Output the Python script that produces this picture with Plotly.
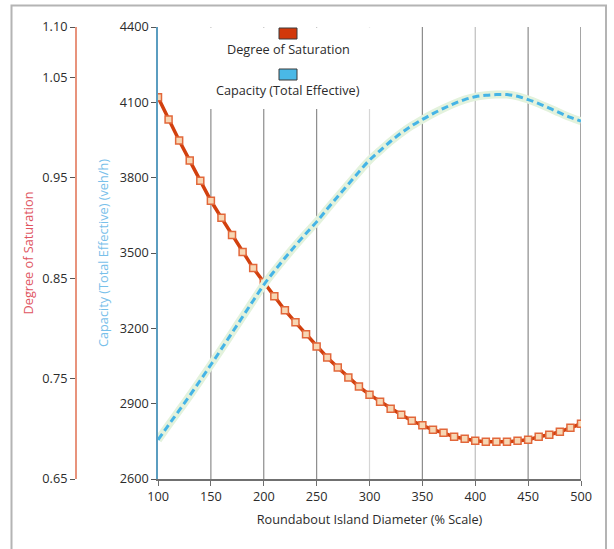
import plotly.graph_objects as go

# ---- data ----
diameter = list(range(100, 501, 10))

degree_of_saturation = [
    1.030, 1.008, 0.987, 0.967, 0.947, 0.927, 0.910, 0.893, 0.876, 0.860,
    0.846, 0.832, 0.818, 0.806, 0.794, 0.782, 0.771, 0.761, 0.751, 0.742,
    0.734, 0.727, 0.720, 0.714, 0.708, 0.7035, 0.699, 0.696, 0.692, 0.690,
    0.688, 0.687, 0.687, 0.687, 0.688, 0.689, 0.692, 0.694, 0.697, 0.701,
    0.705,
]

capacity = [
    2756, 2815, 2873, 2932, 2993, 3055, 3118, 3182, 3246, 3310,
    3373, 3428, 3480, 3530, 3578, 3624, 3675, 3725, 3774, 3823,
    3870, 3908, 3945, 3978, 4007, 4032, 4055, 4076, 4095, 4111,
    4122, 4128, 4131, 4131, 4124, 4111, 4095, 4077, 4058, 4040,
    4025,
]

x_ticks = [100, 150, 200, 250, 300, 350, 400, 450, 500]
dos_ticks = [0.65, 0.75, 0.85, 0.95, 1.05, 1.10]
cap_ticks = [2600, 2900, 3200, 3500, 3800, 4100, 4400]

legend_labels = ["Degree of Saturation", "Capacity (Total Effective)"]

# ---- layout geometry (pixels) ----
W, H = 614, 549
ML, MR, MT, MB = 76, 33, 27, 70
PW, PH = W - ML - MR, H - MT - MB


def px_x(p):
    return (p - ML) / PW


def px_y(p):
    return (H - MB - p) / PH


FONT = "Open Sans"
FS = 12.7
TXT = "#2b2b2b"

fig = go.Figure()

# capacity: pale halo + blue dashed line
fig.add_trace(go.Scatter(
    x=diameter, y=capacity, yaxis="y2", mode="lines",
    line=dict(color="#e3f2dc", width=8, shape="spline"),
    hoverinfo="skip", showlegend=False,
))
fig.add_trace(go.Scatter(
    x=diameter, y=capacity, yaxis="y2", mode="lines",
    line=dict(color="#45b4e6", width=3, dash="7px,4px", shape="spline"),
    name=legend_labels[1], showlegend=False,
))

# degree of saturation
fig.add_trace(go.Scatter(
    x=diameter, y=degree_of_saturation, yaxis="y", mode="lines+markers",
    line=dict(color="#d2400e", width=3.5),
    marker=dict(symbol="square", size=7, color="#f7d7b4",
                line=dict(color="#e2673a", width=1.5)),
    name=legend_labels[0], showlegend=False,
))

shapes = []
annotations = []

# vertical grid lines (rendered with slightly varying greys as in the reference)
grid_colors = ["#8c8c8c", "#8c8c8c", "#8c8c8c", "#8c8c8c", "#d6d6d6",
               "#8c8c8c", "#bdbdbd", "#8c8c8c", "#6a6a6a"]
for xv, gc in zip(x_ticks[1:], grid_colors[1:]):
    shapes.append(dict(type="line", xref="x", yref="paper", x0=xv, x1=xv,
                       y0=0, y1=1, line=dict(color=gc, width=1.2), layer="below"))

# white legend background covering the grid
shapes.append(dict(type="rect", xref="paper", yref="paper",
                   x0=px_x(201), x1=px_x(374), y0=px_y(109), y1=px_y(27.5),
                   fillcolor="white", line=dict(width=0), layer="between"))

# legend swatches and labels
swatch_colors = ["#d2380a", "#4ab8e6"]
sw_top = [28, 69]
txt_y = [48.5, 90.5]
for lab, col, st, ty in zip(legend_labels, swatch_colors, sw_top, txt_y):
    shapes.append(dict(type="rect", xref="paper", yref="paper",
                       x0=px_x(279), x1=px_x(297), y0=px_y(st + 11), y1=px_y(st),
                       fillcolor=col, line=dict(color="#3a3a3a", width=1),
                       layer="above"))
    annotations.append(dict(text=lab, xref="paper", yref="paper",
                            x=px_x(288), y=px_y(ty), showarrow=False,
                            xanchor="center", yanchor="middle",
                            font=dict(family=FONT, size=FS, color=TXT)))

# outer frame
shapes.append(dict(type="rect", xref="paper", yref="paper",
                   x0=px_x(11.5), x1=px_x(606), y0=px_y(600), y1=px_y(5.5),
                   line=dict(color="#b4b4b4", width=2), fillcolor="rgba(0,0,0,0)",
                   layer="above"))

fig.update_layout(
    width=W, height=H,
    margin=dict(l=ML, r=MR, t=MT, b=MB, pad=0),
    paper_bgcolor="white", plot_bgcolor="white",
    font=dict(family=FONT, size=FS, color=TXT),
    showlegend=False,
    shapes=shapes,
    annotations=annotations,
    xaxis=dict(
        domain=[px_x(158), 1], range=[100, 500], anchor="y2",
        tickvals=x_ticks, ticks="outside", ticklen=5, tickcolor="#6e6e6e",
        showline=True, linecolor="#707070", linewidth=2,
        showgrid=False, zeroline=False,
        tickfont=dict(family=FONT, size=FS, color=TXT),
        title=dict(text="Roundabout Island Diameter (% Scale)", standoff=11,
                   font=dict(family=FONT, size=FS, color=TXT)),
        automargin=False,
    ),
    yaxis=dict(
        anchor="free", position=0, side="left", range=[0.65, 1.10],
        tickvals=dos_ticks, ticktext=[f"{v:.2f}" for v in dos_ticks],
        ticks="outside", ticklen=5, tickcolor="#555555",
        showline=True, linecolor="#e8937c", linewidth=2,
        showgrid=False, zeroline=False,
        tickfont=dict(family=FONT, size=FS, color=TXT),
        title=dict(text="Degree of Saturation", standoff=5,
                   font=dict(family=FONT, size=FS, color="#e0555f")),
        automargin=False,
    ),
    yaxis2=dict(
        overlaying="y", anchor="x", side="left", range=[2600, 4400],
        tickvals=cap_ticks, ticks="outside", ticklen=5, tickcolor="#555555",
        showline=True, linecolor="#5b9dc0", linewidth=1.5,
        showgrid=False, zeroline=False,
        tickfont=dict(family=FONT, size=FS, color=TXT),
        title=dict(text="Capacity (Total Effective) (veh/h)", standoff=8,
                   font=dict(family=FONT, size=FS, color="#78c0ea")),
        automargin=False,
    ),
)

fig.write_html("out.html",
               config={"displayModeBar": False},
               post_script="document.body.style.margin='0px';"
                           "document.body.style.overflow='hidden';")
